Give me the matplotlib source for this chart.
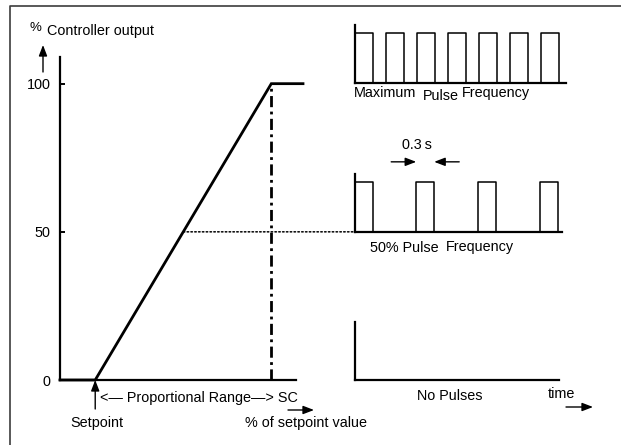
import matplotlib
matplotlib.use("Agg")
import matplotlib.pyplot as plt
from matplotlib.patches import ConnectionPatch

plt.rcParams['font.family'] = ['Liberation Sans', 'DejaVu Sans']
plt.rcParams['font.size'] = 10.4

W, H = 621, 445

# controller output (%) against % of setpoint value
output_x = [90, 100, 150, 159]
output_y = [0, 0, 100, 100]
setpoint = 100
sc_value = 150
half_output = 50
y_ticks = [0, 50, 100]
y_labels = ["0", "50", "100"]

# pulse trains, time in seconds
pulse_width = 0.3
max_pulse_starts = [0, 0.52, 1.03, 1.55, 2.07, 2.58, 3.1]
half_pulse_starts = [0, 1.02, 2.05, 3.08]
no_pulse_starts = []
panel_ends = [3.52, 3.45, 3.4]


def px_box(x0, y0, x1, y1):
    """pixel box (origin top-left) -> figure fraction rect"""
    return [x0 / W, 1 - y1 / H, (x1 - x0) / W, (y1 - y0) / H]


def pulse_wave(starts, width, end):
    xs, ys = [0], [0]
    for s in starts:
        xs += [s, s, s + width, s + width]
        ys += [0, 1, 1, 0]
    xs.append(end)
    ys.append(0)
    return xs, ys


fig = plt.figure(figsize=(W / 100, H / 100), dpi=100)

# overlay in pixel coords for frame and free text
over = fig.add_axes([0, 0, 1, 1])
over.set_xlim(0, W)
over.set_ylim(H, 0)
over.axis('off')
over.plot([10, 10, W], [H, 6, 6], color='#3c3c3c', lw=1.2, solid_capstyle='butt')

arrow = dict(arrowstyle='-|>,head_length=0.65,head_width=0.25', color='black',
             lw=1.0, shrinkA=0, shrinkB=0, mutation_scale=10)

over.text(30, 31, "%", fontsize=9.5, va='baseline')
over.text(47, 35, "Controller output", va='baseline')
over.annotate("", xy=(43, 45), xytext=(43, 72), arrowprops=arrow)

over.text(100, 402, "<\u2014 Proportional Range\u2014> SC", va='baseline')
over.text(97, 427, "Setpoint", va='baseline', ha='center')
over.text(245, 427, "% of setpoint value", va='baseline')
over.annotate("", xy=(314, 410), xytext=(288, 410), arrowprops=arrow)

over.text(354, 97, "Maximum", va='baseline')
over.text(423, 100, "Pulse", va='baseline')
over.text(462, 97, "Frequency", va='baseline')
over.text(370, 252, "50% Pulse", va='baseline')
over.text(446, 251, "Frequency", va='baseline')
over.text(402, 149, "0.3\u2009s", va='baseline')
over.text(417, 400, "No Pulses", va='baseline')
over.text(548, 398, "time", va='baseline')
over.annotate("", xy=(593, 407), xytext=(566, 407), arrowprops=arrow)

# main controller output chart
ax = fig.add_axes(px_box(60, 57, 303, 380))
ax.set_facecolor('none')
ax.set_xlim(90, 159)
ax.set_ylim(0, 109)
for side in ['top', 'right']:
    ax.spines[side].set_visible(False)
for side in ['left', 'bottom']:
    ax.spines[side].set_linewidth(1.6)
ax.spines['bottom'].set_bounds(90, 157)
ax.set_xticks([])
ax.set_yticks(y_ticks)
ax.set_yticklabels(y_labels)
ax.tick_params(axis='y', direction='in', length=3.6, width=1.4, pad=7)

ax.plot(output_x, output_y, color='black', lw=2.0, clip_on=False,
        solid_joinstyle='miter')
ax.plot([sc_value, sc_value], [0, 100], color='black', lw=2.0,
        linestyle=(0, (4, 1.6, 1, 1.6)))
ax.annotate("", xy=(setpoint, 0), xytext=(0, -29), textcoords='offset pixels',
            xycoords='data', arrowprops=arrow)

# pulse panels
base_mid = 380 - half_output / 109 * 323
panels = [
    (px_box(355, 83 - 60, 566, 83), max_pulse_starts, panel_ends[0]),
    (px_box(355, base_mid - 60, 562, base_mid), half_pulse_starts, panel_ends[1]),
    (px_box(355, 320, 559, 380), no_pulse_starts, panel_ends[2]),
]
pulse_axes = []
for rect, starts, end in panels:
    pax = fig.add_axes(rect)
    pax.set_facecolor('none')
    pax.set_xlim(0, end)
    pax.set_ylim(0, 1.2)
    pax.spines['top'].set_visible(False)
    pax.spines['right'].set_visible(False)
    pax.spines['left'].set_bounds(0, 1.16)
    pax.spines['left'].set_linewidth(1.6)
    pax.spines['bottom'].set_linewidth(1.6)
    pax.set_xticks([])
    pax.set_yticks([])
    xs, ys = pulse_wave(starts, pulse_width, end)
    pax.plot(xs, ys, color='black', lw=1.1, clip_on=False)
    pulse_axes.append(pax)

# 0.3 s marker on the second pulse of the 50% train
mid = pulse_axes[1]
p2 = half_pulse_starts[1]
mid.annotate("", xy=(p2, 1.4), xytext=(-25, 0), textcoords='offset pixels',
             arrowprops=arrow, annotation_clip=False)
mid.annotate("", xy=(p2 + pulse_width, 1.4), xytext=(25, 0), textcoords='offset pixels',
             arrowprops=arrow, annotation_clip=False)

# dotted line at 50% output to the 50% pulse train
con = ConnectionPatch(xyA=(setpoint + (sc_value - setpoint) * half_output / 100, half_output),
                      coordsA=ax.transData, xyB=(0, 0), coordsB=mid.transData,
                      linestyle=(0, (1, 1.5)), lw=1.1, color='black')
fig.add_artist(con)

fig.savefig("out.png", dpi=100)
